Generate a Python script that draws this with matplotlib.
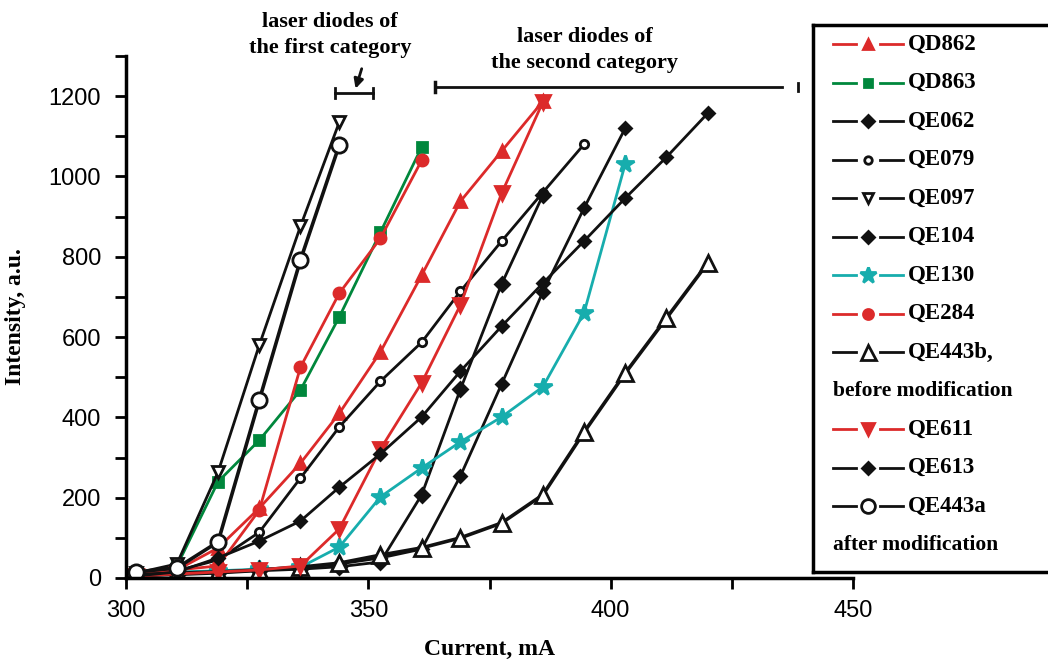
import matplotlib
matplotlib.use("Agg")
import matplotlib.pyplot as plt
from matplotlib.ticker import MultipleLocator

# 데이터
x_qd862 = [302, 310.5, 319, 327.5, 336, 344, 352.5, 361, 369, 377.5, 386]
y_qd862 = [10, 20, 75, 174, 286, 410, 563, 754, 938, 1063, 1187]

x_qd863 = [302, 310.5, 319, 327.5, 336, 344, 352.5, 361]
y_qd863 = [10, 30, 240, 343, 468, 650, 861, 1073]

x_qe062 = [302, 310.5, 319, 327.5, 336, 344, 352.5, 361, 369, 377.5, 386, 394.5, 403]
y_qe062 = [5, 10, 15, 20, 25, 35, 50, 72, 254, 483, 712, 921, 1120]

x_qe079 = [302, 310.5, 319, 327.5, 336, 344, 352.5, 361, 369, 377.5, 386, 394.5]
y_qe079 = [8, 18, 45, 114, 249, 376, 490, 587, 714, 839, 960, 1080]

x_qe097 = [302, 310.5, 319, 327.5, 336, 344]
y_qe097 = [12, 35, 264, 580, 876, 1135]

x_qe104 = [302, 310.5, 319, 327.5, 336, 344, 352.5, 361, 369, 377.5, 386]
y_qe104 = [5, 8, 12, 18, 22, 28, 40, 207, 470, 732, 953]

x_qe130 = [302, 310.5, 319, 327.5, 336, 344, 352.5, 361, 369, 377.5, 386, 394.5, 403]
y_qe130 = [10, 15, 18, 22, 27, 77, 202, 274, 339, 401, 476, 660, 1031]

x_qe284 = [302, 310.5, 319, 327.5, 336, 344, 352.5, 361]
y_qe284 = [10, 20, 30, 169, 525, 709, 846, 1040]

x_qe443b = [302, 310.5, 319, 327.5, 336, 344, 352.5, 361, 369, 377.5, 386, 394.5, 403, 411.5, 420]
y_qe443b = [8, 12, 15, 20, 27, 37, 57, 75, 100, 137, 207, 363, 510, 647, 784]

x_qe611 = [302, 310.5, 319, 327.5, 336, 344, 352.5, 361, 369, 377.5, 386]
y_qe611 = [5, 10, 15, 20, 30, 122, 321, 486, 680, 958, 1185]

x_qe613 = [302, 310.5, 319, 327.5, 336, 344, 352.5, 361, 369, 377.5, 386, 394.5, 403, 411.5, 420]
y_qe613 = [5, 15, 50, 92, 142, 226, 309, 401, 515, 627, 734, 839, 946, 1048, 1157]

x_qe443a = [302, 310.5, 319, 327.5, 336, 344]
y_qe443a = [15, 25, 90, 443, 792, 1078]

RED = "#dc2a2a"
GREEN = "#00873c"
CYAN = "#17adad"
BLACK = "#111111"

# (라벨, x, y, 색, 마커, 마커크기, 속채움)
series = [
    ("QD862", x_qd862, y_qd862, RED, "^", 8, RED),
    ("QD863", x_qd863, y_qd863, GREEN, "s", 7, GREEN),
    ("QE062", x_qe062, y_qe062, BLACK, "D", 6.5, BLACK),
    ("QE079", x_qe079, y_qe079, BLACK, "o", 6, "white"),
    ("QE097", x_qe097, y_qe097, BLACK, "v", 8, "white"),
    ("QE104", x_qe104, y_qe104, BLACK, "D", 7, BLACK),
    ("QE130", x_qe130, y_qe130, CYAN, "*", 13, CYAN),
    ("QE284", x_qe284, y_qe284, RED, "o", 8, RED),
    ("QE443b,", x_qe443b, y_qe443b, BLACK, "^", 12, "white"),
    ("QE611", x_qe611, y_qe611, RED, "v", 10, RED),
    ("QE613", x_qe613, y_qe613, BLACK, "D", 6.5, BLACK),
    ("QE443a", x_qe443a, y_qe443a, BLACK, "o", 11, "white"),
]

serif = ["Liberation Serif", "DejaVu Serif"]
sans = ["Liberation Sans", "DejaVu Sans"]

fig = plt.figure(figsize=(10.48, 6.6), dpi=100)
ax = fig.add_axes([126 / 1048, 82 / 660, 727 / 1048, 522 / 660])

for label, xs, ys, c, m, ms, fc in series:
    lw = 2.6 if label.startswith("QE443") else 2.0
    ax.plot(xs, ys, color=c, marker=m, markersize=ms, markerfacecolor=fc,
            markeredgecolor=c, markeredgewidth=2, linewidth=lw)

ax.set_xlim(300, 450)
ax.set_ylim(0, 1300)
ax.xaxis.set_major_locator(MultipleLocator(50))
ax.xaxis.set_minor_locator(MultipleLocator(25))
ax.yaxis.set_major_locator(MultipleLocator(200))
ax.yaxis.set_minor_locator(MultipleLocator(100))
ax.tick_params(which="both", direction="out", length=8, width=2)
ax.tick_params(axis="x", labelsize=17, pad=8)
ax.tick_params(axis="y", labelsize=17, pad=10)
for t in ax.get_xticklabels() + ax.get_yticklabels():
    t.set_family(sans)
ax.spines["top"].set_visible(False)
ax.spines["right"].set_visible(False)
ax.spines["left"].set_linewidth(2.5)
ax.spines["bottom"].set_linewidth(2.5)

ax.set_xlabel("Current, mA", family=serif, fontweight="bold", fontsize=17, labelpad=12)
ax.set_ylabel("Intensity, a.u.", family=serif, fontweight="bold", fontsize=17, labelpad=16)

# 주석: 첫 번째 범주
ax.text(342.1, 1352, "laser diodes of\nthe first category", family=serif, fontweight="bold",
        fontsize=16, ha="center", va="center", linespacing=1.45)
ax.plot([343.1, 350.9], [1207, 1207], color=BLACK, lw=2, clip_on=False)
ax.plot([343.1, 343.1], [1195, 1220], color=BLACK, lw=2, clip_on=False)
ax.plot([350.9, 350.9], [1195, 1220], color=BLACK, lw=2, clip_on=False)
ax.annotate("", xy=(347.2, 1212), xytext=(348.8, 1275), annotation_clip=False,
            arrowprops=dict(arrowstyle="-|>", color=BLACK, lw=2, mutation_scale=14))

# 주석: 두 번째 범주
ax.text(394.7, 1315, "laser diodes of\nthe second category", family=serif, fontweight="bold",
        fontsize=16, ha="center", va="center", linespacing=1.45)
ax.plot([363.75, 435.3], [1223, 1223], color=BLACK, lw=2, clip_on=False)
ax.plot([363.75, 363.75], [1210, 1236], color=BLACK, lw=2.5, clip_on=False)
ax.plot([438.7, 438.7], [1214, 1232], color=BLACK, lw=2, clip_on=False)

# 범례 (수동)
lg = fig.add_axes([813 / 1048, 88 / 660, 240 / 1048, 547 / 660])
lg.set_xlim(813, 1053)
lg.set_ylim(572, 25)
lg.set_xticks([])
lg.set_yticks([])
for s in lg.spines.values():
    s.set_linewidth(2.5)

rows = []
for item in series:
    rows.append(item)
    if item[0] == "QE443b,":
        rows.append("before modification")
rows.append("after modification")

for i, row in enumerate(rows):
    yy = 44 + i * 38.5
    if isinstance(row, str):
        lg.text(833, yy, row, family=serif, fontweight="bold", fontsize=15.5, va="center", ha="left")
        continue
    label, xs, ys, c, m, ms, fc = row
    lg.plot([833, 856], [yy, yy], color=c, lw=2)
    lg.plot([880, 903], [yy, yy], color=c, lw=2)
    lg.plot([868], [yy], color=c, marker=m, markersize=ms * 0.9, markerfacecolor=fc,
            markeredgecolor=c, markeredgewidth=2)
    lg.text(908, yy, label, family=serif, fontweight="bold", fontsize=16.5, va="center", ha="left")

plt.savefig("out.png", dpi=100)
